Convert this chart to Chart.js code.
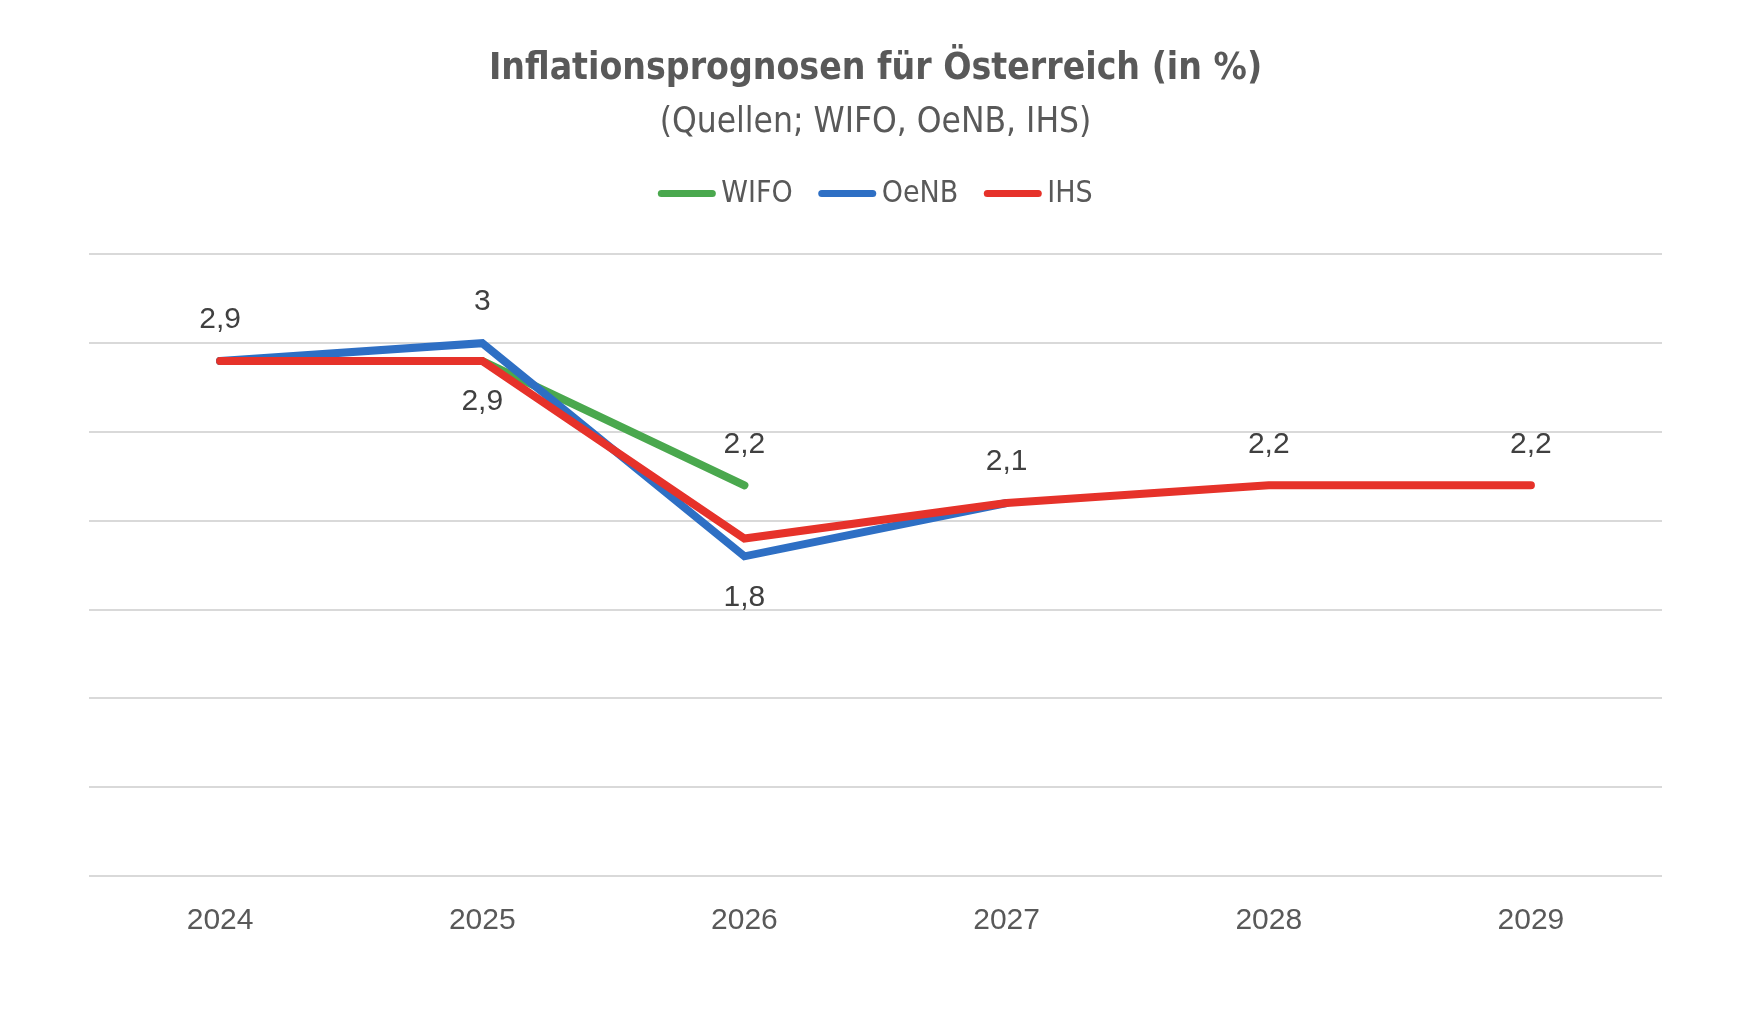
<!DOCTYPE html>
<html lang="de">
<head>
    <meta charset="UTF-8" />
    <title>Inflationsprognosen für Österreich</title>
    <script src="https://cdn.jsdelivr.net/npm/chart.js"></script>
    <style>
        * { box-sizing: border-box; margin: 0; padding: 0; }
        html, body { width: 1740px; height: 1026px; background: #ffffff; overflow: hidden; }
        .chart-box { position: relative; width: 1740px; height: 1026px; }
    </style>
</head>
<body>
    <div class="chart-box"><canvas id="inflationChart"></canvas></div>

    <script>
        // Jahre und Prognosen (in %)
        const years = ['2024', '2025', '2026', '2027', '2028', '2029'];
        const wifo = [2.9, 2.9, 2.2, null, null, null];
        const oenb = [2.9, 3.0, 1.8, 2.1, null, null];
        const ihs = [2.9, 2.9, 1.9, 2.1, 2.2, 2.2];

        // which points carry a value label, and on which side
        const wifoLabels = [null, null, 'above', null, null, null];
        const oenbLabels = [null, 'above', 'below', null, null, null];
        const ihsLabels = ['above', 'below', null, 'above', 'above', 'above'];

        const yTicks = [0, 0.5, 1, 1.5, 2, 2.5, 3, 3.5];

        const labelFont = '30px "Liberation Sans", Arial, sans-serif';
        const narrowFont = '"Liberation Sans Narrow", "DejaVu Sans Condensed", "Liberation Sans", sans-serif';

        // draws the value labels (German decimal comma)
        const valueLabels = {
            id: 'valueLabels',
            afterDatasetsDraw(chart) {
                const ctx = chart.ctx;
                ctx.save();
                ctx.font = labelFont;
                ctx.fillStyle = '#404040';
                ctx.textAlign = 'center';
                ctx.textBaseline = 'middle';
                chart.data.datasets.forEach((ds, di) => {
                    const meta = chart.getDatasetMeta(di);
                    ds.valueLabels.forEach((pos, i) => {
                        if (!pos || ds.data[i] == null) return;
                        const pt = meta.data[i];
                        const dy = pos === 'above' ? -41 : 41;
                        ctx.fillText(String(ds.data[i]).replace('.', ','), pt.x, pt.y + dy);
                    });
                });
                ctx.restore();
            }
        };

        // legend drawn by hand so the spacing matches the original
        const lineLegend = {
            id: 'lineLegend',
            afterDraw(chart) {
                const ctx = chart.ctx;
                const area = chart.chartArea;
                const lineLen = 57, gap = 6, itemGap = 26;
                ctx.save();
                ctx.font = '30px ' + narrowFont;
                ctx.textBaseline = 'middle';
                const items = chart.data.datasets.map(ds => ({
                    text: ds.label, color: ds.borderColor, w: ctx.measureText(ds.label).width
                }));
                const total = items.reduce((s, it) => s + lineLen + gap + it.w, 0) + itemGap * (items.length - 1);
                let x = (area.left + area.right) / 2 - total / 2;
                const y = area.top - 61;
                items.forEach(it => {
                    ctx.strokeStyle = it.color;
                    ctx.lineWidth = 7;
                    ctx.lineCap = 'round';
                    ctx.beginPath();
                    ctx.moveTo(x + 3, y);
                    ctx.lineTo(x + lineLen - 3, y);
                    ctx.stroke();
                    ctx.fillStyle = '#595959';
                    ctx.fillText(it.text, x + lineLen + gap, y + 1);
                    x += lineLen + gap + it.w + itemGap;
                });
                ctx.restore();
            }
        };

        function lineSet(label, data, color, labels, order) {
            return {
                label: label,
                data: data,
                valueLabels: labels,
                borderColor: color,
                backgroundColor: color,
                borderWidth: 8,
                borderCapStyle: 'round',
                borderJoinStyle: 'miter',
                pointRadius: 0,
                pointHoverRadius: 0,
                tension: 0,
                spanGaps: false,
                order: order
            };
        }

        new Chart(document.getElementById('inflationChart'), {
            type: 'line',
            data: {
                labels: years,
                datasets: [
                    lineSet('WIFO', wifo, '#4aa84e', wifoLabels, 3),
                    lineSet('OeNB', oenb, '#2e6fc4', oenbLabels, 2),
                    lineSet('IHS', ihs, '#e6322a', ihsLabels, 1)
                ]
            },
            options: {
                responsive: true,
                maintainAspectRatio: false,
                animation: false,
                layout: { padding: { top: 0, left: 89, right: 78, bottom: 60 } },
                plugins: {
                    title: {
                        display: true,
                        text: 'Inflationsprognosen für Österreich (in %)',
                        color: '#595959',
                        font: { family: narrowFont, size: 37, weight: 'bold', lineHeight: 1.2 },
                        padding: { top: 47, bottom: 0 }
                    },
                    subtitle: {
                        display: true,
                        text: '(Quellen; WIFO, OeNB, IHS)',
                        color: '#595959',
                        font: { family: narrowFont, size: 35, lineHeight: 1.2 },
                        padding: { top: 11, bottom: 110 }
                    },
                    legend: { display: false },
                    tooltip: { enabled: false }
                },
                scales: {
                    x: {
                        offset: true,
                        grid: { display: false, drawTicks: false },
                        border: { display: false },
                        ticks: {
                            color: '#595959',
                            padding: 27,
                            font: { family: '"Liberation Sans", Arial, sans-serif', size: 30 }
                        }
                    },
                    y: {
                        min: yTicks[0],
                        max: yTicks[yTicks.length - 1],
                        afterBuildTicks(scale) {
                            scale.ticks = yTicks.map(v => ({ value: v }));
                        },
                        grid: { color: '#d9d9d9', lineWidth: 2, drawTicks: false },
                        border: { display: false },
                        ticks: { display: false }
                    }
                }
            },
            plugins: [valueLabels, lineLegend]
        });
    </script>
</body>
</html>
